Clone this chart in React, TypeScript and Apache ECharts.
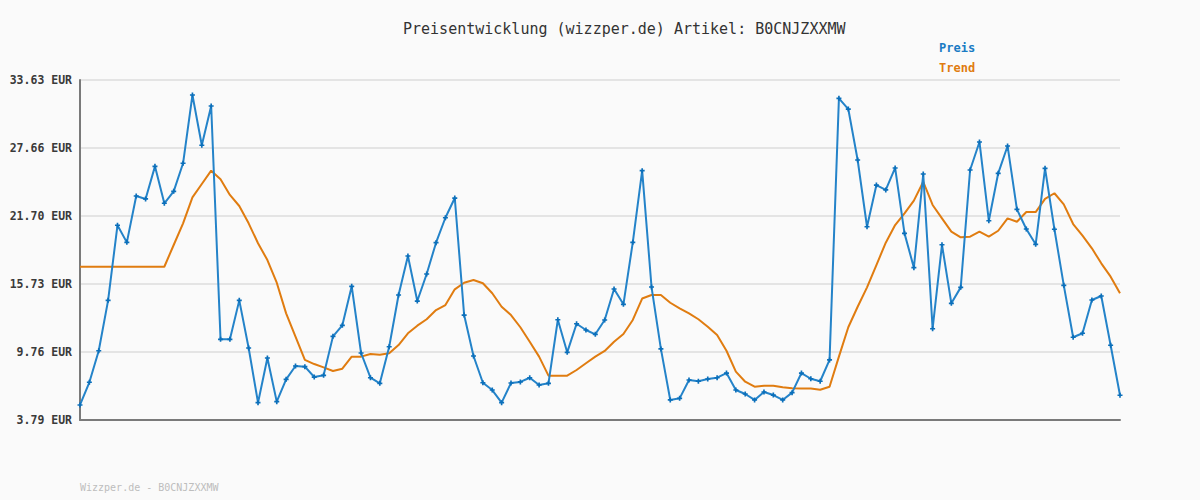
import React, { useEffect, useRef } from "react";
import * as echarts from "echarts";

const titleText = "Preisentwicklung (wizzper.de) Artikel: B0CNJZXXMW";
const footerText = "Wizzper.de - B0CNJZXXMW";
const seriesNames = ["Preis", "Trend"];
const yTickLabels = ["3.79", "9.76", "15.73", "21.70", "27.66", "33.63"];
const yMin = 3.79;
const yMax = 33.63;

const preis = [
  5.11, 7.10, 9.87, 14.29, 20.88, 19.38, 23.45, 23.19, 26.05, 22.81,
  23.86, 26.32, 32.31, 27.90, 31.35, 10.87, 10.87, 14.29, 10.11, 5.31,
  9.23, 5.40, 7.36, 8.53, 8.47, 7.56, 7.71, 11.13, 12.10, 15.52,
  9.67, 7.50, 7.01, 10.22, 14.76, 18.18, 14.23, 16.60, 19.35, 21.54,
  23.27, 13.00, 9.41, 7.06, 6.42, 5.31, 7.04, 7.13, 7.50, 6.86,
  7.01, 12.59, 9.73, 12.24, 11.69, 11.31, 12.57, 15.29, 13.94, 19.38,
  25.67, 15.46, 10.03, 5.55, 5.69, 7.30, 7.19, 7.39, 7.50, 7.91,
  6.42, 6.07, 5.55, 6.25, 5.98, 5.55, 6.19, 7.91, 7.41, 7.19,
  9.06, 32.02, 31.08, 26.61, 20.75, 24.41, 23.98, 25.91, 20.17, 17.16,
  25.38, 11.80, 19.17, 14.03, 15.43, 25.73, 28.19, 21.28, 25.44, 27.84,
  22.28, 20.55, 19.21, 25.88, 20.53, 15.61, 11.05, 11.40, 14.32, 14.67,
  10.35, 5.96,
];

const trend = [
  17.24, 17.24, 17.24, 17.24, 17.24, 17.24, 17.24, 17.24, 17.24, 17.24,
  19.15, 21.05, 23.33, 24.50, 25.67, 24.91, 23.54, 22.57, 21.05, 19.30,
  17.83, 15.84, 13.15, 11.10, 9.06, 8.70, 8.41, 8.09, 8.29, 9.35,
  9.35, 9.58, 9.52, 9.64, 10.37, 11.40, 12.07, 12.63, 13.44, 13.88,
  15.26, 15.84, 16.08, 15.79, 14.91, 13.73, 13.00, 11.93, 10.66, 9.35,
  7.68, 7.68, 7.68, 8.18, 8.77, 9.35, 9.85, 10.66, 11.34, 12.57,
  14.45, 14.76, 14.76, 14.08, 13.59, 13.15, 12.63, 11.98, 11.25, 9.87,
  8.03, 7.15, 6.71, 6.80, 6.80, 6.66, 6.57, 6.55, 6.55, 6.45,
  6.71, 9.35, 11.93, 13.73, 15.43, 17.39, 19.35, 20.90, 21.93, 23.04,
  24.70, 22.66, 21.49, 20.32, 19.82, 19.88, 20.32, 19.88, 20.40, 21.49,
  21.19, 22.04, 22.04, 23.19, 23.69, 22.72, 20.99, 19.97, 18.86, 17.54,
  16.37, 14.91,
];

const categories = preis.map((_, i) => String(i + 1));

const BLUE = "#2483c9";
const BLUE_TXT = "#1a7bc4";
const ORANGE = "#e07c10";
const MONO = "'DejaVu Sans Mono', 'Liberation Mono', monospace";

export default function App() {
  const ref = useRef<HTMLDivElement>(null);

  useEffect(() => {
    if (!ref.current) return;
    const chart = echarts.init(ref.current, undefined, { renderer: "svg" });
    chart.setOption({
      animation: false,
      backgroundColor: "#fafafa",
      title: {
        text: titleText,
        left: 398,
        top: 16,
        textStyle: { fontFamily: MONO, fontSize: 15, fontWeight: "normal", color: "#333" },
      },
      legend: {
        orient: "vertical",
        left: 929,
        top: 37,
        itemGap: 8,
        itemWidth: 0,
        itemHeight: 0,
        icon: "rect",
        selectedMode: false,
        textStyle: { fontFamily: MONO, fontSize: 12, fontWeight: "bold" },
        data: [
          { name: seriesNames[0], textStyle: { color: BLUE_TXT } },
          { name: seriesNames[1], textStyle: { color: ORANGE } },
        ],
      },
      grid: { left: 80, right: 80, top: 80, bottom: 80, containLabel: false },
      xAxis: {
        type: "category",
        data: categories,
        boundaryGap: false,
        axisLine: { show: true, lineStyle: { color: "#7a7a7a", width: 2 } },
        axisTick: { show: false },
        axisLabel: { show: false },
        splitLine: { show: false },
      },
      yAxis: {
        type: "value",
        min: yMin,
        max: yMax,
        interval: (yMax - yMin) / 5,
        axisLine: { show: true, lineStyle: { color: "#7a7a7a", width: 2 } },
        axisTick: { show: false },
        axisLabel: {
          margin: 8,
          fontFamily: MONO,
          fontSize: 11.5,
          fontWeight: "bold",
          color: "#3a3a3a",
          formatter: (_v: number, idx: number) => `${yTickLabels[idx]} EUR`,
        },
        splitLine: { show: true, lineStyle: { color: "#e4e4e4", width: 2 } },
      },
      series: [
        {
          name: seriesNames[1],
          type: "line",
          data: trend,
          symbol: "none",
          lineStyle: { color: ORANGE, width: 2 },
          itemStyle: { color: ORANGE },
          z: 2,
        },
        {
          name: seriesNames[0],
          type: "line",
          data: preis,
          symbol: "path://M-1,-3H1V-1H3V1H1V3H-1V1H-3V-1H-1Z",
          symbolSize: 5,
          showSymbol: true,
          lineStyle: { color: BLUE, width: 2 },
          itemStyle: { color: "#0b6fba" },
          z: 3,
        },
      ],
      graphic: [
        {
          type: "text",
          left: 80,
          top: 482,
          style: { text: footerText, font: `10px ${MONO}`, fill: "#bdbdbd" },
        },
      ],
    });
    return () => chart.dispose();
  }, []);

  return (
    <div
      ref={ref}
      style={{ position: "fixed", left: 0, top: 0, width: 1200, height: 500 }}
    />
  );
}
